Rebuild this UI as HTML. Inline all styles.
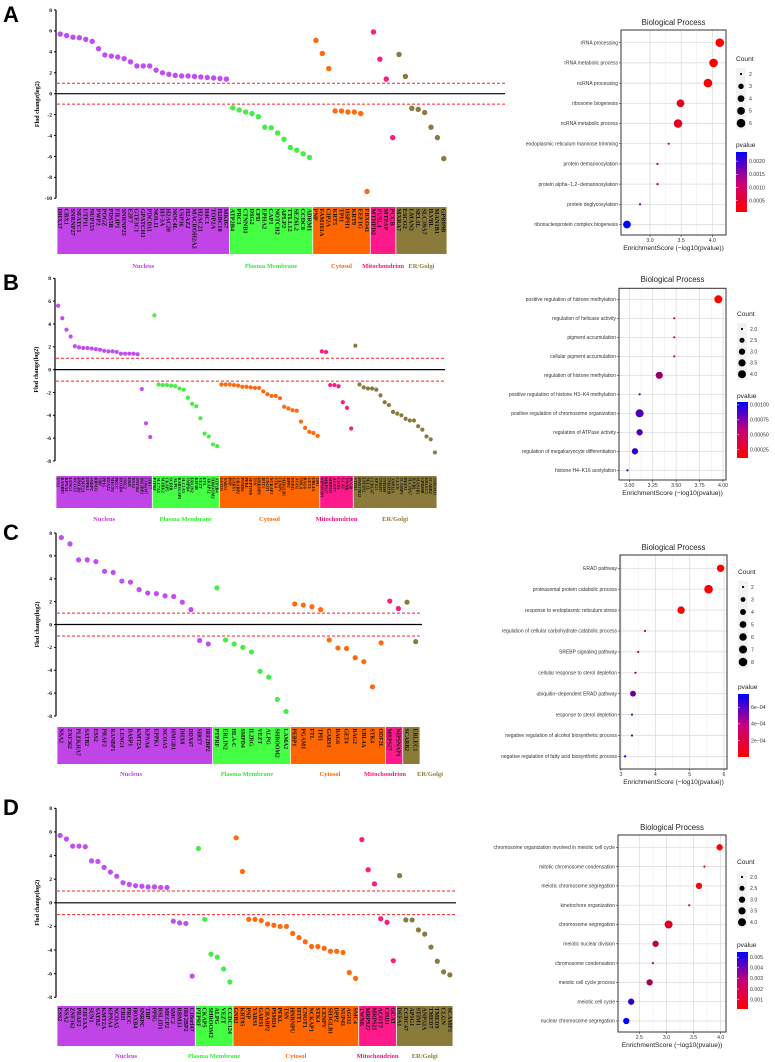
<!DOCTYPE html>
<html><head><meta charset="utf-8"><style>
html,body{margin:0;padding:0;background:#fff;}
svg{display:block;}
</style></head><body>
<svg id="fig" width="775" height="1062" viewBox="0 0 775 1062" xmlns="http://www.w3.org/2000/svg">
<text x="3" y="22" font-family="Liberation Sans, sans-serif" font-weight="bold" font-size="22">A</text>
<text x="3" y="290" font-family="Liberation Sans, sans-serif" font-weight="bold" font-size="22">B</text>
<text x="3" y="540" font-family="Liberation Sans, sans-serif" font-weight="bold" font-size="22">C</text>
<text x="3" y="815" font-family="Liberation Sans, sans-serif" font-weight="bold" font-size="22">D</text>
</svg>
<script>
// ---------- Scatter (fold change) data ----------
const catNames = ["Nucleus","Plasma Membrane","Cytosol","Mitochondrion","ER/Golgi"];

const aGenes = [
 ["DHX37","CBX1","SNRNP27","NFATC1","UTP11","NUP153","PWP2","POGZ","PDS5B","FILIP1","SNRNP25","E2F7","GTF3C1","GPATCH1","PDCD11","NOL11","H3-3A","H2AC20","NOC4L","USP36","H2AZ2","MACROH2A2","H2AC21","H4C1","TOP2A","H2BC18","MKI67"],
 ["ATP2B4","PRC1","CTNNB1","DSG2","CPD","EPHA2","CAP1","NOTCH2","APLP2","TTLL12","SEZ6L2","CCDC8","ADRM1"],
 ["PNP","FAM161A","CIP2A","KRT5","TPI1","HSPH1","KRT9","EEF1G","FBXO41"],
 ["MTHFD2","PUSL1","MTPAP","PCCB"],
 ["MXRA7","ESCO2","LMAN2","SEL1L","SLC39A7","ILVBL","MAN1B1","GPR89B"]];
const aFc = [
 [5.7,5.55,5.4,5.35,5.2,5.0,4.3,3.7,3.6,3.5,3.35,3.05,2.65,2.65,2.65,2.25,2.0,1.85,1.75,1.7,1.7,1.65,1.6,1.55,1.5,1.45,1.4],
 [-1.35,-1.55,-1.75,-1.9,-2.2,-3.2,-3.25,-3.75,-4.35,-5.15,-5.4,-5.75,-6.1],
 [5.1,3.85,2.4,-1.65,-1.65,-1.75,-1.75,-1.9,-9.35],
 [5.9,3.3,1.4,-4.2],
 [3.75,1.65,-1.4,-1.5,-1.8,-3.2,-4.2,-6.2]];

const bGenes = [
 ["ESS2","RANBP1","KPNA4","LENG1","NCOA5","HMGB1","KMT2A","EPPK1","SNRPC","RBM33","TBP","PPIG","H2AZ2","MECP2","PRCC","HOXB4","SMC2","ERH","NSA2","ZNF362","IRF2BP2","C18orf47","SIRT7"],
 ["PTPRF","SLC7A5","MARK2","CKAP5","SCRIB","ALPG","RAB3GAP2","SLC1A5","SMPD4","ERLIN2","KIF5B","VEZT","EVL","AKAP12","SHROOM2","ATP2B4"],
 ["GSTO1","YARS1","PNP","GARS1","CRABP2","PSMD4","PFKL","SEPTIN9","TSN","HNRNPU","IFIT1","CNOT1","NCKAP1","STK4","CENPV","SH3GLB1","DPP2","NUP43","AGO2","SMC4","BAG6","GET4","UBL4A","TPI1"],
 ["NIPSNAP1","MRPS27","MRPS21","ACOT7","CISD1","GCAT","TWNK","PCCB"],
 ["STIM1","HSD17B12","LMAN2","SEL1L","CCDC47","AP1G1","TMED7","TMED9","TMED10","ANP32A","CLGN","SCAMP3","DEFA1","SLC39A7","ILVBL","MAN1B1","GPR89B","ERLEC1","SCARB2","TMEM33"]];
const bFc = [
 [5.6,4.5,3.5,2.9,2.05,1.95,1.9,1.9,1.85,1.8,1.75,1.65,1.6,1.6,1.55,1.4,1.4,1.4,1.4,1.35,-1.7,-4.7,-5.9],
 [4.75,-1.3,-1.35,-1.35,-1.4,-1.45,-1.65,-1.75,-2.45,-3.0,-3.2,-4.25,-5.6,-5.85,-6.55,-6.7],
 [-1.3,-1.3,-1.3,-1.35,-1.4,-1.5,-1.5,-1.55,-1.6,-1.6,-1.9,-2.15,-2.3,-2.3,-2.5,-3.25,-3.4,-3.55,-3.6,-4.55,-5.1,-5.45,-5.55,-5.8],
 [1.6,1.55,-1.35,-1.35,-1.45,-2.85,-3.35,-5.15],
 [2.1,-1.3,-1.55,-1.65,-1.65,-1.75,-2.25,-2.85,-3.1,-3.7,-3.85,-4.0,-4.3,-4.45,-4.45,-4.95,-5.25,-5.85,-6.1,-7.25]];

const cGenes = [
 ["NSA2","ZNF362","PLEKHA7","SATB2","ESS2","PRAF2","RANBP1","LENG1","BASP1","KMT2A","KPNA4","EPPK1","NCOA5","HMGB1","DHX8","DDX47","SIRT7","IRF2BP2"],
 ["PTPRF","ERLIN2","HLA-C","SMPD4","IL2RG","VEZT","ALPG","SHROOM2","LAMA2"],
 ["PEBP1","PGAM1","FTL","TPI1","GARS1","BAG6","GET4","BAG2","UBL4A","STK4","ODF2L"],
 ["MRPS27","NIPSNAP1"],
 ["SCARB2","ERLEC1"]];
const cFc = [
 [7.6,7.05,5.65,5.65,5.5,4.65,4.55,3.8,3.7,3.05,2.75,2.7,2.5,2.45,1.95,1.3,-1.4,-1.7],
 [3.2,-1.35,-1.7,-2.0,-2.4,-4.1,-4.6,-6.55,-7.6],
 [1.8,1.7,1.55,1.3,-1.35,-2.05,-2.1,-2.9,-3.25,-5.45,-1.6],
 [2.05,1.4],
 [1.95,-1.5]];

const dGenes = [
 ["ESS2","NSA2","ZNF362","PRAF2","EIF1AX","SUN1","SATB2","KMT2A","KPNA4","NCOA5","ERH","PRCC","HOXB4","SNRPC","TBP","PPIG","RSL1D1","MECP2","SMC2","RBM33","IRF2BP2","C18orf47"],
 ["PTPRF","CKAP5","SHROOM2","ALPG","VEZT","CCDC124"],
 ["GNB2","KRT85","PNP","YARS1","GARS1","CRABP2","PSMD4","PFKL","TSN","HNRNPU","IFIT1","CNOT1","NCKAP1","STK4","CENPV","SH3GLB1","DPP2","NUP43","AGO2","SMC4"],
 ["TWNK","MRPS27","MRPS21","ACOT7","CISD1","GCAT"],
 ["DEFA1","CCDC47","AP1G1","STIM1","ANP32A","TMED7","TMED9","CLGN","SCAMP3"]];
const dFc = [
 [5.7,5.4,4.8,4.8,4.75,3.55,3.5,3.0,2.6,2.25,1.7,1.55,1.45,1.4,1.35,1.35,1.3,1.3,-1.55,-1.7,-1.75,-6.2],
 [4.6,-1.4,-4.35,-4.6,-5.6,-6.7],
 [5.5,2.65,-1.4,-1.4,-1.5,-1.8,-1.9,-2.0,-2.0,-2.6,-2.95,-3.3,-3.7,-3.7,-3.85,-4.1,-4.1,-4.2,-5.9,-6.4],
 [5.35,2.8,1.6,-1.35,-1.65,-4.9],
 [2.3,-1.45,-1.45,-2.3,-2.65,-3.75,-4.95,-5.85,-6.1]];

const aTicks = [-10,-8,-6,-4,-2,0,2,4,6,8];
const bcdTicks = [-8,-6,-4,-2,0,2,4,6,8];

// ---------- GO enrichment data ----------
const aTerms = ["rRNA processing","rRNA metabolic process","ncRNA processing","ribosome biogenesis","ncRNA metabolic process","endoplasmic reticulum mannose trimming","protein demannosylation","protein alpha\u22121,2\u2212demannosylation","protein deglycosylation","ribonucleoprotein complex biogenesis"];
const aScore = [4.12,4.02,3.93,3.49,3.45,3.30,3.12,3.12,2.84,2.63];
const aCount = [6,6,6,5,6,2,2,2,2,5];
const aXTicks = [3.0,3.5,4.0];
const aCountTicks = [2,3,4,5,6];
const aPTicks = [0.0005,0.0010,0.0015,0.0020];

const bTerms = ["positive regulation of histone methylation","regulation of helicase activity","pigment accumulation","cellular pigment accumulation","regulation of histone methylation","positive regulation of histone H3\u2212K4 methylation","positive regulation of chromosome organization","regulation of ATPase activity","regulation of megakaryocyte differentiation","histone H4\u2212K16 acetylation"];
const bScore = [3.95,3.48,3.48,3.48,3.32,3.11,3.11,3.11,3.06,2.98];
const bCount = [4,2,2,2,3.5,2,4,3,3,2];
const bXTicks = [3.00,3.25,3.50,3.75,4.00];
const bCountTicks = [2.0,2.5,3.0,3.5,4.0];
const bPTicks = [0.00025,0.00050,0.00075,0.00100];

const cTerms = ["ERAD pathway","proteasomal protein catabolic process","response to endoplasmic reticulum stress","regulation of cellular carbohydrate catabolic process","SREBP signaling pathway","cellular response to sterol depletion","ubiquitin\u2212dependent ERAD pathway","response to sterol depletion","negative regulation of alcohol biosynthetic process","negative regulation of fatty acid biosynthetic process"];
const cScore = [5.9,5.55,4.75,3.7,3.5,3.42,3.35,3.32,3.32,3.12];
const cCount = [6,8,6,2,2,2,4,2,2,2];
const cXTicks = [3,4,5,6];
const cCountTicks = [2,3,4,5,6,7,8];
const cPTicks = [0.0002,0.0004,0.0006];

const dTerms = ["chromosome organization involved in meiotic cell cycle","mitotic chromosome condensation","meiotic chromosome segregation","kinetochore organization","chromosome segregation","meiotic nuclear division","chromosome condensation","meiotic cell cycle process","meiotic cell cycle","nuclear chromosome segregation"];
const dScore = [3.98,3.7,3.6,3.42,3.04,2.8,2.75,2.69,2.35,2.26];
const dCount = [3,2,3,2,4,3,2,3,3,3];
const dXTicks = [2.5,3.0,3.5,4.0];
const dCountTicks = [2.0,2.5,3.0,3.5,4.0];
const dPTicks = [0.001,0.002,0.003,0.004,0.005];

const NS = "http://www.w3.org/2000/svg";
const svg = document.getElementById("fig");
function mk(tag, attrs, parent){
  const e = document.createElementNS(NS, tag);
  for (const k in attrs) e.setAttribute(k, attrs[k]);
  (parent||svg).appendChild(e);
  return e;
}
const SERIF = "Liberation Serif, serif";
const SANS = "Liberation Sans, sans-serif";
const boxCol = ["#c044e6","#44ff44","#ff6600","#ff1a8c","#8b7b3a"];
const dotCol = ["#c04ef0","#44ee44","#ff6a10","#ff1a80","#8a7a40"];
const txtCol = ["#c040e0","#33ee33","#ff6600","#f0147d","#8b7d3a"];

function scatterPanel(cfg, genes, fc, ticks){
  const g = mk("g", {});
  
  
  const ymax = ticks[ticks.length-1], ymin = ticks[0];
  const ys = v => cfg.yTop + (ymax - v) * (cfg.yBot - cfg.yTop) / (ymax - ymin);
  let n = 0; fc.forEach(a => n += a.length);
  const step = (cfg.xEndBox - cfg.x0) / n;
  const xs = i => cfg.x0 + (i + 0.5) * step;
  const ax = mk("line", {x1:cfg.x0-1, x2:cfg.x0-1, y1:ys(ymax), y2:ys(ymin), stroke:"#000", "stroke-width":1.2}, g);
  
  
  ticks.forEach(t => {
    mk("line", {x1:cfg.x0-3, x2:cfg.x0-1, y1:ys(t), y2:ys(t), stroke:"#000", "stroke-width":1}, g);
    const tl = mk("text", {x:cfg.x0-5, y:ys(t)+1.8, "text-anchor":"end", "font-family":SERIF, "font-weight":"bold", "font-size":5.5}, g);
    tl.textContent = t;
    
    
  });
  const yt = mk("text", {x:0, y:0, transform:`translate(${cfg.x0-18},${(ys(ymax)+ys(ymin))/2}) rotate(-90)`, "text-anchor":"middle", "font-family":SERIF, "font-weight":"bold", "font-size":6}, g);
  yt.textContent = "Flod change(log2)";
  
  
  const z = mk("line", {x1:cfg.x0-1, x2:cfg.axisEnd, y1:ys(0), y2:ys(0), stroke:"#000", "stroke-width":1.2}, g);
  
  
  [1,-1].forEach(v => {
    const d = mk("line", {x1:cfg.x0, x2:cfg.axisEnd, y1:ys(v), y2:ys(v), stroke:"#ff2020", "stroke-width":1, "stroke-dasharray":"3,2"}, g);
    
    
  });
  let idx = 0;
  fc.forEach((arr, c) => {
    const bx0 = cfg.x0 + idx*step, bx1 = cfg.x0 + (idx+arr.length)*step;
    const box = mk("rect", {x:bx0+0.4, y:cfg.boxTop, width:bx1-bx0-0.8, height:cfg.boxBot-cfg.boxTop, fill:boxCol[c]}, g);
    
    
    const lx = cfg.labelX ? cfg.labelX[c] : (bx0+bx1)/2;
    const cl = mk("text", {x:lx, y:cfg.labelY, "text-anchor":"middle", "font-family":SERIF, "font-weight":"bold", "font-size":6.5, fill:txtCol[c]}, g);
    cl.textContent = catNames[c];
    
    
    arr.forEach((v, j) => {
      const x = xs(idx+j);
      const p = mk("circle", {cx:x, cy:ys(v), r:cfg.r, fill:dotCol[c]}, g);
      
      
      const gl = mk("text", {x:0, y:0, transform:`translate(${x - cfg.fs*0.35},${cfg.boxTop+1.5}) rotate(90)`, "font-family":SERIF, "font-weight":"bold", "font-size":cfg.fs, fill:"#111"}, g);
      gl.textContent = genes[c][j];
      
      
    });
    idx += arr.length;
  });
}

scatterPanel({name:"scatter-a", x0:57, xEndBox:447, axisEnd:505, yTop:10, yBot:198.3, boxTop:207, boxBot:254, labelY:268, r:2.7, fs:6.3}, aGenes, aFc, aTicks);
scatterPanel({name:"scatter-b", x0:56, xEndBox:437, axisEnd:445, yTop:278.3, yBot:461, boxTop:476, boxBot:508, labelY:521, r:2.1, fs:4.2}, bGenes, bFc, bcdTicks);
scatterPanel({name:"scatter-c", x0:57, xEndBox:420, axisEnd:422, yTop:533, yBot:716, boxTop:727, boxBot:764, labelY:776, r:2.6, fs:5.8, labelX:[131,247,330,385,430]}, cGenes, cFc, bcdTicks);
scatterPanel({name:"scatter-d", x0:57, xEndBox:453, axisEnd:456, yTop:808.3, yBot:997.3, boxTop:1006, boxBot:1046, labelY:1058, r:2.6, fs:6}, dGenes, dFc, bcdTicks);

function pcol(p, pmin, pmax){
  let t = (p - pmin) / (pmax - pmin); t = Math.max(0, Math.min(1, t));
  const r = Math.round(255*(1-t)), b = Math.round(255*t);
  return `rgb(${r},0,${b})`;
}
function goPanel(cfg, terms, score, count, xt, ct, pt){
  const g = mk("g", {});
  
  
  const xs = v => cfg.xa + (v - cfg.va) * (cfg.xb - cfg.xa) / (cfg.vb - cfg.va);
  const ry = i => cfg.row0 + i * cfg.rowStep;
  const cmin = ct[0], cmax = ct[ct.length-1];
  const rs = c => cfg.rmin + (cfg.rmax - cfg.rmin) * Math.sqrt((c - cmin) / (cmax - cmin));
  const ps = score.map(s => Math.pow(10, -s));
  const pmin = Math.min(...ps), pmax = Math.max(...ps);
  mk("rect", {x:cfg.L, y:cfg.T, width:cfg.R-cfg.L, height:cfg.B-cfg.T, fill:"#fff"}, g);
  for (let i = 0; i < xt.length; i++) {
    mk("line", {x1:xs(xt[i]), x2:xs(xt[i]), y1:cfg.T, y2:cfg.B, stroke:"#d8d8d8", "stroke-width":0.7}, g);
    if (i < xt.length-1) { const m = (xt[i]+xt[i+1])/2; mk("line", {x1:xs(m), x2:xs(m), y1:cfg.T, y2:cfg.B, stroke:"#ececec", "stroke-width":0.5}, g); }
  }
  terms.forEach((t, i) => {
    mk("line", {x1:cfg.L, x2:cfg.R, y1:ry(i), y2:ry(i), stroke:"#d8d8d8", "stroke-width":0.7}, g);
    mk("line", {x1:cfg.L-2, x2:cfg.L, y1:ry(i), y2:ry(i), stroke:"#333", "stroke-width":0.6}, g);
    const tl = mk("text", {x:cfg.L-3, y:ry(i)+1.7, "text-anchor":"end", "font-family":SANS, "font-size":5, fill:"#333"}, g);
    tl.textContent = t;
    
    
  });
  const fr = mk("rect", {x:cfg.L, y:cfg.T, width:cfg.R-cfg.L, height:cfg.B-cfg.T, fill:"none", stroke:"#333", "stroke-width":1}, g);
  
  
  score.forEach((s, i) => {
    const c = mk("circle", {cx:xs(s), cy:ry(i), r:rs(count[i]), fill:pcol(ps[i], pmin, pmax)}, g);
    
    
  });
  xt.forEach(v => {
    mk("line", {x1:xs(v), x2:xs(v), y1:cfg.B, y2:cfg.B+2, stroke:"#333", "stroke-width":0.6}, g);
    const l = mk("text", {x:xs(v), y:cfg.B+7, "text-anchor":"middle", "font-family":SANS, "font-size":5.2, fill:"#333"}, g);
    l.textContent = cfg.fmt(v);
    
    
  });
  const ti = mk("text", {x:(cfg.L+cfg.R)/2, y:cfg.B+15, "text-anchor":"middle", "font-family":SANS, "font-size":6.6, fill:"#222"}, g);
  ti.textContent = "EnrichmentScore (\u2212log10(pvalue))";
  
  
  const tt = mk("text", {x:(cfg.L+cfg.R)/2, y:cfg.titleY, "text-anchor":"middle", "font-family":SANS, "font-size":7.8, fill:"#222"}, g);
  tt.textContent = "Biological Process";
  
  
  const lc = mk("text", {x:cfg.lx, y:cfg.countY, "font-family":SANS, "font-size":6.6, fill:"#222"}, g);
  lc.textContent = "Count";
  
  
  ct.forEach((c, i) => {
    const y = cfg.countY + 13 + i * cfg.cStep;
    mk("rect", {x:cfg.lx, y:y-cfg.cStep/2, width:10, height:cfg.cStep, fill:"#f2f2f2"}, g);
    const d = mk("circle", {cx:cfg.lx+5, cy:y, r:rs(c), fill:"#000"}, g);
    
    
    const l = mk("text", {x:cfg.lx+13, y:y+1.8, "font-family":SANS, "font-size":5.2, fill:"#333"}, g);
    l.textContent = cfg.cfmt(c);
    
    
  });
  const lp = mk("text", {x:cfg.lx, y:cfg.pY, "font-family":SANS, "font-size":6.6, fill:"#222"}, g);
  lp.textContent = "pvalue";
  
  
  const gid = cfg.name + "-grad";
  const defs = mk("defs", {}, g);
  const lg = mk("linearGradient", {id:gid, x1:0, y1:1, x2:0, y2:0}, defs);
  mk("stop", {offset:"0", "stop-color":"#ff0000"}, lg);
  mk("stop", {offset:"0.5", "stop-color":"#c8007a"}, lg);
  mk("stop", {offset:"1", "stop-color":"#0000ff"}, lg);
  const bar = mk("rect", {x:cfg.lx, y:cfg.barT, width:11, height:cfg.barB-cfg.barT, fill:`url(#${gid})`}, g);
  
  
  const py = p => cfg.barB - (p - pmin) / (pmax - pmin) * (cfg.barB - cfg.barT);
  pt.forEach(p => {
    const y = py(p);
    if (y < cfg.barT - 1 || y > cfg.barB + 1) return;
    mk("line", {x1:cfg.lx, x2:cfg.lx+2, y1:y, y2:y, stroke:"#fff", "stroke-width":0.5}, g);
    const l = mk("text", {x:cfg.lx+13, y:y+1.8, "font-family":SANS, "font-size":5.2, fill:"#333"}, g);
    l.textContent = cfg.pfmt(p);
    
    
  });
}
goPanel({name:"go-a", L:621, R:726, T:30, B:235, xa:650, xb:712.3, va:3, vb:4, row0:42.7, rowStep:20.2, rmin:1.1, rmax:4.3, titleY:25, lx:736, countY:61, cStep:12.3, pY:147, barT:152, barB:212,
  fmt:v=>v.toFixed(1), cfmt:c=>String(c), pfmt:p=>p.toFixed(4)}, aTerms, aScore, aCount, aXTicks, aCountTicks, aPTicks);
goPanel({name:"go-b", L:619, R:726, T:288.3, B:480, xa:629.3, xb:723, va:3, vb:4, row0:299.3, rowStep:19, rmin:1.1, rmax:4.0, titleY:282, lx:737, countY:316, cStep:11.3, pY:398, barT:402, barB:458,
  fmt:v=>v.toFixed(2), cfmt:c=>c.toFixed(1), pfmt:p=>p.toFixed(5)}, bTerms, bScore, bCount, bXTicks, bCountTicks, bPTicks);
goPanel({name:"go-c", L:620, R:727, T:555, B:769, xa:621, xb:724, va:3, vb:6, row0:568.3, rowStep:20.9, rmin:1.1, rmax:4.3, titleY:550, lx:738, countY:574, cStep:12.5, pY:689, barT:694, barB:757,
  fmt:v=>String(v), cfmt:c=>String(c), pfmt:p=>(p*1e4).toFixed(0)+"e\u221204"}, cTerms, cScore, cCount, cXTicks, cCountTicks, cPTicks);
goPanel({name:"go-d", L:618, R:726, T:835, B:1032, xa:639.3, xb:720.7, va:2.5, vb:4, row0:847.3, rowStep:19.3, rmin:1.1, rmax:4.0, titleY:830, lx:737, countY:864, cStep:11.3, pY:947, barT:952, barB:1009,
  fmt:v=>v.toFixed(1), cfmt:c=>c.toFixed(1), pfmt:p=>p.toFixed(3)}, dTerms, dScore, dCount, dXTicks, dCountTicks, dPTicks);
</script>
</body></html>
